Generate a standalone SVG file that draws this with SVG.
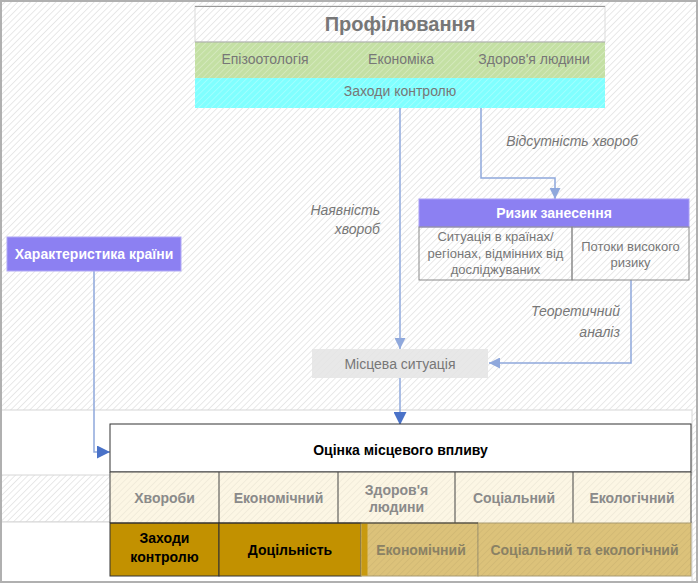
<svg xmlns="http://www.w3.org/2000/svg" width="698" height="583" viewBox="0 0 698 583">
<defs>
<pattern id="hatch" width="4.5" height="4.5" patternUnits="userSpaceOnUse" patternTransform="rotate(45)"><line x1="0" y1="0" x2="0" y2="4.5" stroke="#e3e3e3" stroke-width="1.6"/></pattern>
<pattern id="hatchW" width="4.5" height="4.5" patternUnits="userSpaceOnUse" patternTransform="rotate(45)"><line x1="0" y1="0" x2="0" y2="4.5" stroke="#ffffff" stroke-opacity="0.3" stroke-width="1.6"/></pattern>
<pattern id="hatchG" width="4.5" height="4.5" patternUnits="userSpaceOnUse" patternTransform="rotate(45)"><line x1="0" y1="0" x2="0" y2="4.5" stroke="#000000" stroke-opacity="0.05" stroke-width="1.6"/></pattern>
<marker id="ah" markerUnits="userSpaceOnUse" markerWidth="11" markerHeight="11" refX="10" refY="5" orient="auto" viewBox="0 0 10 10"><path d="M0,0 L10,5 L0,10 z" fill="#8fa8dc"/></marker>
<marker id="ahd" markerUnits="userSpaceOnUse" markerWidth="13" markerHeight="13" refX="10" refY="5" orient="auto" viewBox="0 0 10 10"><path d="M0,0 L10,5 L0,10 z" fill="#4a72c8"/></marker>
</defs>
<style>
text{font-family:"Liberation Sans",Arial,sans-serif;}
.t{font-size:14px;fill:#777;text-anchor:middle;}
.s{font-size:13px;fill:#777;text-anchor:middle;}
.s14{font-size:14px;fill:#777;text-anchor:middle;}
.lab{font-size:14px;fill:#777;font-style:italic;}
.wb{font-size:14px;fill:#fff;font-weight:bold;text-anchor:middle;}
.kb{font-size:14px;fill:#000;font-weight:bold;text-anchor:middle;}
.gb{font-size:14px;fill:#8a8a8a;font-weight:bold;text-anchor:middle;}
.mb{font-size:14px;fill:#8a8164;font-weight:bold;text-anchor:middle;}
.con{fill:none;stroke:#8fa8dc;stroke-width:1.5;}
</style>
<rect x="0" y="0" width="698" height="583" fill="#ffffff"/>
<rect x="0" y="0" width="698" height="583" fill="url(#hatch)"/>
<g id="bands">
<rect x="1" y="410" width="691" height="65" fill="#ffffff" stroke="#d6d6d6"/>
<line x1="1" y1="522" x2="692" y2="522" stroke="#d6d6d6"/>
<rect x="1" y="522" width="691" height="60" fill="#ffffff" stroke="#d6d6d6"/>
</g>
<rect x="1" y="1" width="696" height="581" fill="none" stroke="#b0b0b0" stroke-width="2"/>

<g id="profiling">
<rect x="195" y="6" width="410" height="36" fill="none" stroke="#dcdcdc"/>
<line x1="195" y1="6.5" x2="605" y2="6.5" stroke="#999"/>
<rect x="195" y="42" width="410" height="36" fill="#c4e0a4"/>
<rect x="195" y="42" width="410" height="36" fill="url(#hatchW)"/>
<line x1="195" y1="42" x2="605" y2="42" stroke="#aaa"/>
<rect x="195" y="78" width="410" height="30" fill="#80ffff"/>
<rect x="195" y="78" width="410" height="30" fill="url(#hatchW)"/>
<text x="400" y="31" style="font-size:20px;font-weight:bold;fill:#777;text-anchor:middle;">Профілювання</text>
<text class="t" x="265" y="64">Епізоотологія</text>
<text class="t" x="401" y="64">Економіка</text>
<text class="t" x="534" y="64">Здоров'я людини</text>
<text class="t" x="400" y="96">Заходи контролю</text>
</g>

<g id="connectors">
<path class="con" d="M400,108 V349" marker-end="url(#ah)"/>
<path class="con" d="M481,108 V178 H555 V199" marker-end="url(#ah)"/>
<path class="con" d="M631,280 V363 H489" marker-end="url(#ah)"/>
<path class="con" d="M400,378 V425" marker-end="url(#ahd)"/>
<path class="con" d="M94,271 V452 H110" marker-end="url(#ahd)"/>
<text class="lab" x="572" y="146" text-anchor="middle">Відсутність хвороб</text>
<text class="lab" x="380" y="215" text-anchor="end">Наявність</text>
<text class="lab" x="380" y="234" text-anchor="end">хвороб</text>
<text class="lab" x="620" y="316" text-anchor="end">Теоретичний</text>
<text class="lab" x="620" y="337" text-anchor="end">аналіз</text>
</g>

<g id="risk">
<rect x="419" y="199" width="270" height="28" fill="#8c80f2" stroke="#a99ff5"/>
<text class="wb" x="554" y="218">Ризик занесення</text>
<rect x="419" y="227" width="153" height="53" fill="none" stroke="#8a8a8a"/>
<rect x="572" y="227" width="117" height="53" fill="none" stroke="#8a8a8a"/>
<text class="s" x="495.5" y="241">Ситуація в країнах/</text>
<text class="s" x="495.5" y="258">регіонах, відмінних від</text>
<text class="s" x="495.5" y="274">досліджуваних</text>
<text class="s" x="630.5" y="250.5">Потоки високого</text>
<text class="s" x="630.5" y="267">ризику</text>
</g>

<g id="local">
<rect x="312" y="349" width="176" height="29" fill="#e4e4e4" fill-opacity="0.85"/>
<text class="s14" x="400" y="368.5">Місцева ситуація</text>
</g>

<g id="country">
<rect x="7" y="237" width="174" height="34" fill="#8c80f2" stroke="#b0a8f5"/>
<text class="wb" x="94" y="259">Характеристика країни</text>
</g>

<g id="assessment">
<rect x="110" y="424" width="581" height="48" fill="#ffffff" stroke="#333"/>
<text class="kb" x="400.5" y="455">Оцінка місцевого впливу</text>
<rect x="110" y="472" width="581" height="51" fill="#fcf6e4"/>
<rect x="110" y="472" width="581" height="51" fill="url(#hatchG)"/>
<g fill="none" stroke="#444">
<line x1="110" y1="472" x2="691" y2="472"/>
<line x1="110" y1="472" x2="110" y2="523"/>
<line x1="219" y1="472" x2="219" y2="523"/>
<line x1="338" y1="472" x2="338" y2="523"/>
<line x1="455" y1="472" x2="455" y2="523"/>
<line x1="573" y1="472" x2="573" y2="523"/>
<line x1="691" y1="472" x2="691" y2="523"/>
</g>
<text class="gb" x="164.5" y="502.5">Хвороби</text>
<text class="gb" x="278.5" y="502.5">Економічний</text>
<text class="gb" x="396.5" y="495">Здоров'я</text>
<text class="gb" x="396.5" y="512">людини</text>
<text class="gb" x="514" y="502.5">Соціальний</text>
<text class="gb" x="632" y="502.5">Екологічний</text>
<rect x="110" y="523" width="109" height="53" fill="#c29100" stroke="#333"/>
<rect x="219" y="523" width="142" height="53" fill="#c29100" stroke="#333"/>
<rect x="361" y="523" width="117" height="53" fill="#dcc27a" stroke="#a89a70"/>
<rect x="478" y="523" width="213" height="53" fill="#dcc27a" stroke="#a89a70"/>
<rect x="361" y="523" width="330" height="53" fill="url(#hatchG)"/>
<rect x="361.5" y="523.5" width="6" height="52" fill="#c89a10"/>
<line x1="110" y1="523" x2="478" y2="523" stroke="#333"/>
<text class="kb" x="164.5" y="543">Заходи</text>
<text class="kb" x="164.5" y="562">контролю</text>
<text class="kb" x="290" y="554.5">Доцільність</text>
<text class="mb" x="421" y="554.5">Економічний</text>
<text class="mb" x="584.5" y="554.5">Соціальний та екологічний</text>
</g>
</svg>
